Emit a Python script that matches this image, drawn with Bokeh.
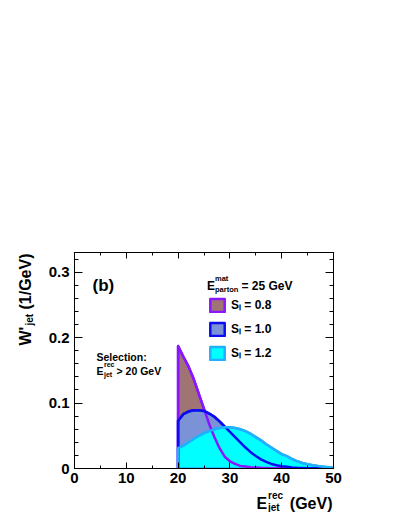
import numpy as np
from bokeh.plotting import figure
from bokeh.models import (Label, Legend, LegendItem, LinearAxis,
                          SingleIntervalTicker, CustomJSTickFormatter)
from bokeh.embed import file_html
from bokeh.resources import INLINE

# ---------------- data ----------------
e_rec = [20, 21, 22, 23, 24, 25, 26, 27, 28, 29, 30, 31, 32, 33, 34, 35,
         36, 37, 38, 39, 40, 41, 42, 43, 44, 45, 46, 47, 48, 49, 50]
w_s08 = [0.187, 0.171, 0.156, 0.137, 0.114, 0.091, 0.068, 0.048, 0.031,
         0.018, 0.011, 0.007, 0.004, 0.003, 0.002, 0.0015, 0.001, 0.0008,
         0.0005, 0.0004, 0.0003, 0.0002, 0.0002, 0.0001, 0.0001, 0.0001,
         0.0, 0.0, 0.0, 0.0, 0.0]
w_s10 = [0.073, 0.083, 0.087, 0.089, 0.089, 0.088, 0.084, 0.079, 0.072,
         0.064, 0.056, 0.048, 0.040, 0.032, 0.025, 0.019, 0.014, 0.010,
         0.007, 0.005, 0.0035, 0.0025, 0.0015, 0.001, 0.0008, 0.0005,
         0.0004, 0.0003, 0.0002, 0.0001, 0.0001]
w_s12 = [0.031, 0.035, 0.040, 0.045, 0.050, 0.054, 0.057, 0.060, 0.062,
         0.063, 0.063, 0.062, 0.060, 0.057, 0.053, 0.048, 0.043, 0.037,
         0.032, 0.027, 0.022, 0.019, 0.0145, 0.011, 0.0085, 0.0065, 0.005,
         0.0037, 0.0028, 0.002, 0.0015]
series_labels = ["S\u2097 = 0.8", "S\u2097 = 1.0", "S\u2097 = 1.2"]
e_cut = 20
x_ticks_major = 10
y_ticks_major = 0.1

# ---------------- styling ----------------
FONT = "Liberation Sans"
line_colors = ["#8a16ff", "#0c0cf0", "#20b0ff"]
fill_colors = ["#a07474", "#7b93d6", "#00ffff"]
LW = 2.5

W, H = 395, 512
ML, MT = 74, 252
FW, FH = 259, 216
MR, MB = W - ML - FW, H - MT - FH
X_END, Y_END = 50, 0.33

p = figure(width=W, height=H, x_range=(0, X_END), y_range=(0, Y_END),
           output_backend="svg", toolbar_location=None,
           min_border_left=ML, min_border_right=MR,
           min_border_top=MT, min_border_bottom=MB)
p.background_fill_color = "white"
p.border_fill_color = "white"
p.outline_line_color = "black"
p.outline_line_width = 1
p.xgrid.visible = False
p.ygrid.visible = False


def px2x(px):
    # canvas x pixel -> data x
    return (px - ML) / FW * X_END


def py2y(py):
    return (MT + FH - py) / FH * Y_END


def style_axis(ax, tick_in, minor_in, show_labels, standoff):
    ax.axis_line_color = "black"
    ax.axis_line_width = 1
    ax.major_tick_in = tick_in
    ax.major_tick_out = 0
    ax.minor_tick_in = minor_in
    ax.minor_tick_out = 0
    ax.major_tick_line_color = "black"
    ax.minor_tick_line_color = "black"
    ax.major_label_text_font = FONT
    ax.major_label_text_font_style = "bold"
    ax.major_label_text_color = "black"
    ax.major_label_standoff = standoff
    ax.major_label_text_font_size = "15px"
    if not show_labels:
        ax.formatter = CustomJSTickFormatter(code="return ''")


xb = p.xaxis[0]
xb.ticker = SingleIntervalTicker(interval=x_ticks_major, num_minor_ticks=2)
style_axis(xb, 6, 3, True, 4)
yl = p.yaxis[0]
yl.ticker = SingleIntervalTicker(interval=y_ticks_major, num_minor_ticks=5)
yl.major_label_overrides = {0: "0"}
style_axis(yl, 8, 4, True, 5)

xt = LinearAxis(ticker=SingleIntervalTicker(interval=x_ticks_major, num_minor_ticks=2))
style_axis(xt, 6, 3, False, 0)
p.add_layout(xt, "above")
yr = LinearAxis(ticker=SingleIntervalTicker(interval=y_ticks_major, num_minor_ticks=5))
style_axis(yr, 8, 4, False, 0)
p.add_layout(yr, "right")

# ---------------- curves ----------------
series = [w_s08, w_s10, w_s12]
patches = []
for vals, lc, fc in zip(series, line_colors, fill_colors):
    xs = np.concatenate([[e_cut], e_rec, [e_rec[-1]]])
    ys = np.concatenate([[0.0], vals, [0.0]])
    r = p.patch(xs, ys, fill_color=fc, fill_alpha=1.0, line_color=lc,
                line_width=LW, line_join="round")
    patches.append(r)

for vals, lc in zip(series, line_colors):
    xs = np.concatenate([[e_cut], e_rec])
    ys = np.concatenate([[0.0], vals])
    p.line(xs, ys, line_color=lc, line_width=LW, line_join="round")

# ---------------- legend ----------------
legend = Legend(items=[LegendItem(label=lab, renderers=[r])
                       for lab, r in zip(series_labels, patches)],
                location=(134, 107), padding=0, margin=0, spacing=7,
                glyph_width=18, glyph_height=16, label_height=16,
                label_standoff=5, border_line_color=None,
                background_fill_alpha=0,
                label_text_font=FONT, label_text_font_style="bold",
                label_text_font_size="12px", label_text_color="black")
p.add_layout(legend)


def add_text(text, px, py, size, align="left", angle=0.0, place="center"):
    lab = Label(x=px2x(px), y=py2y(py), text=text,
                text_font=FONT, text_font_style="bold",
                text_font_size=f"{size}px", text_color="black",
                text_align=align, text_baseline="alphabetic",
                angle=angle)
    if place == "center":
        p.add_layout(lab)
    else:
        p.add_layout(lab, place)


# legend title  E^mat_parton = 25 GeV
add_text("E", 206.5, 285.7, 12)
add_text("mat", 214.5, 277.5, 7.5)
add_text("parton", 214.5, 288.5, 7.5)
add_text("= 25 GeV", 241, 285.7, 12)

# panel tag
add_text("(b)", 92, 285, 17)

# selection text
add_text("Selection:", 96, 356.7, 10.5)
add_text("E", 96, 370, 10.5)
add_text("rec", 103.5, 364, 7)
add_text("jet", 103.5, 373.5, 7)
add_text("> 20 GeV", 116, 370, 10.5)

# axis titles live in the (tall, empty) top panel so that they are not
# clipped to the frame; they are positioned through the data scales.
# x axis title  E^rec_jet (GeV)
add_text("E", 256, 502.7, 16, place="above")
add_text("rec", 267.5, 495, 10, place="above")
add_text("jet", 267.5, 507, 10, place="above")
add_text("(GeV)", 332, 502.7, 16, align="right", place="above")

# y axis title  W'_jet (1/GeV)
ang = np.pi / 2
add_text("W'", 25, 345, 16, angle=ang, place="above")
add_text("jet", 28.5, 325, 10, angle=ang, place="above")
add_text("(1/GeV)", 25, 309, 16, angle=ang, place="above")

open("out.html", "w").write(file_html(p, INLINE))
